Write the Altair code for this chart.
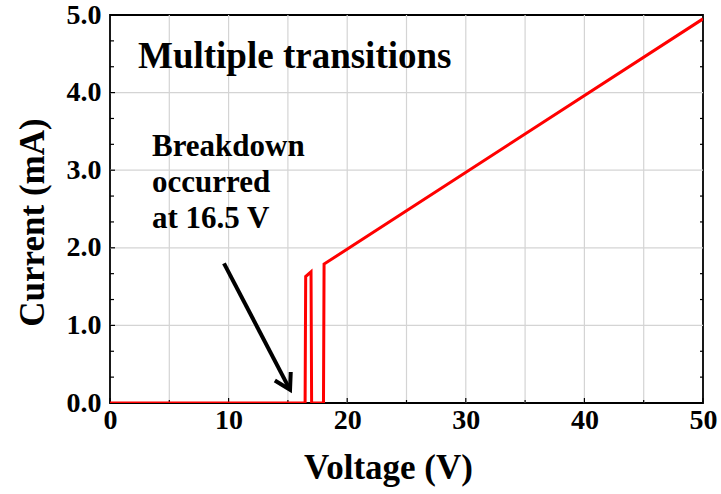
import altair as alt
import pandas as pd

# I-V curve (Voltage V, Current mA)
voltage = [0, 16.45, 16.5, 16.95, 17.0, 18.0, 18.05, 50]
current = [0, 0, 1.63, 1.69, 0, 0, 1.79, 4.95]

# arrow (shaft + head) in data coordinates
arrow_group = ["shaft", "shaft", "head", "head", "head"]
arrow_order = [0, 1, 0, 1, 2]
arrow_x = [9.61, 15.18, 13.90, 15.18, 15.24]
arrow_y = [1.80, 0.17, 0.29, 0.17, 0.40]

# text annotations
title_text = ["Multiple transitions"]
title_x = [2.36]
title_y = [4.32]
note_lines = ["Breakdown", "occurred", "at 16.5 V"]
note_x = [3.54, 3.54, 3.54]
note_y = [3.18, 2.72, 2.26]

x_ticks = [0, 10, 20, 30, 40, 50]
x_minor = [5, 15, 25, 35, 45]
y_ticks = [0, 1, 2, 3, 4, 5]
y_minor = [1/3, 2/3, 4/3, 5/3, 7/3, 8/3, 10/3, 11/3, 13/3, 14/3]

FONT = "Liberation Serif"

df = pd.DataFrame({"V": voltage, "I": current})
arrow_df = pd.DataFrame({"g": arrow_group, "o": arrow_order, "x": arrow_x, "y": arrow_y})
title_df = pd.DataFrame({"t": title_text, "x": title_x, "y": title_y})
note_df = pd.DataFrame({"t": note_lines, "x": note_x, "y": note_y})

xs = alt.Scale(domain=[0, 50], nice=False, zero=False)
ys = alt.Scale(domain=[0, 5], nice=False, zero=False)

x_axis = alt.Axis(values=x_ticks, title="Voltage (V)", grid=False, ticks=False,
                  labelPadding=3, titlePadding=16, domain=False,
                  labelFlush=False, labelOverlap=False, titleX=278)
y_axis = alt.Axis(values=y_ticks, format=".1f", title="Current (mA)", grid=False, ticks=False,
                  labelPadding=9, titlePadding=16, domain=False,
                  labelFlush=False, labelOverlap=False, titleY=207)

# grid lines
xgrid = alt.Chart(pd.DataFrame({"v": x_ticks[1:-1] + x_minor})).mark_rule(
    color="#d4d4d4", strokeWidth=1.2).encode(x=alt.X("v:Q", scale=xs))
ygrid = alt.Chart(pd.DataFrame({"v": y_ticks[1:-1]})).mark_rule(
    color="#d4d4d4", strokeWidth=1.2).encode(y=alt.Y("v:Q", scale=ys))

# inward ticks
xtick_major = alt.Chart(pd.DataFrame({"v": x_ticks})).mark_rule(color="black", strokeWidth=1.2).encode(
    x=alt.X("v:Q", scale=xs), y=alt.value(388), y2=alt.value(383))
xtick_minor = alt.Chart(pd.DataFrame({"v": x_minor})).mark_rule(color="black", strokeWidth=1.2).encode(
    x=alt.X("v:Q", scale=xs), y=alt.value(388), y2=alt.value(385))
ytick_major = alt.Chart(pd.DataFrame({"v": y_ticks})).mark_rule(color="black", strokeWidth=1.2).encode(
    y=alt.Y("v:Q", scale=ys), x=alt.value(0), x2=alt.value(5))
ytick_minor = alt.Chart(pd.DataFrame({"v": y_minor})).mark_rule(color="black", strokeWidth=1.2).encode(
    y=alt.Y("v:Q", scale=ys), x=alt.value(0), x2=alt.value(4))
ytick_minor_r = alt.Chart(pd.DataFrame({"v": y_minor})).mark_rule(color="black", strokeWidth=1.2).encode(
    y=alt.Y("v:Q", scale=ys), x=alt.value(593), x2=alt.value(590))

line = alt.Chart(df).mark_line(color="#ff0000", strokeWidth=3, strokeJoin="miter", clip=True).encode(
    x=alt.X("V:Q", scale=xs, axis=x_axis),
    y=alt.Y("I:Q", scale=ys, axis=y_axis),
)

arrow = alt.Chart(arrow_df).mark_line(color="black", strokeWidth=4, strokeJoin="miter").encode(
    x=alt.X("x:Q", scale=xs), y=alt.Y("y:Q", scale=ys), detail="g:N", order="o:Q")

title = alt.Chart(title_df).mark_text(
    font=FONT, fontWeight="bold", fontSize=37, align="left", baseline="alphabetic", color="black"
).encode(x=alt.X("x:Q", scale=xs), y=alt.Y("y:Q", scale=ys), text="t:N")

note = alt.Chart(note_df).mark_text(
    font=FONT, fontWeight="bold", fontSize=31, align="left", baseline="alphabetic", color="black"
).encode(x=alt.X("x:Q", scale=xs), y=alt.Y("y:Q", scale=ys), text="t:N")

chart = alt.layer(
    xgrid, ygrid, xtick_major, xtick_minor, ytick_major, ytick_minor, ytick_minor_r,
    line, arrow, title, note
).properties(
    width=593, height=388,
    autosize=alt.AutoSizeParams(type="none"),
    padding={"left": 110, "top": 15, "right": 18, "bottom": 91},
    background="white",
).configure_view(
    stroke="black", strokeWidth=1.8
).configure_axis(
    labelFont=FONT, labelFontWeight="bold", labelFontSize=28, labelColor="black",
    titleFont=FONT, titleFontWeight="bold", titleFontSize=35, titleColor="black",
)

chart.save("out.html", embed_options={"renderer": "svg", "actions": False})
